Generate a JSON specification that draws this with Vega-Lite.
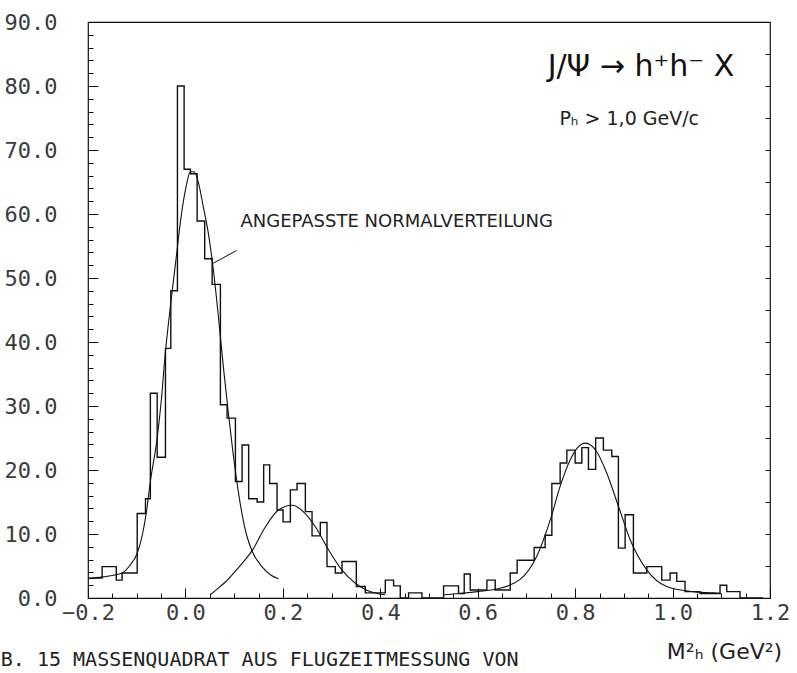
{
  "$schema": "https://vega.github.io/schema/vega-lite/v6.json",
  "width": 682,
  "height": 576,
  "autosize": "none",
  "padding": {"left": 88, "top": 22, "right": 27, "bottom": 75},
  "background": "white",
  "config": {
    "view": {"stroke": "#111", "strokeWidth": 1.2},
    "axis": {"grid": false, "domain": false, "tickColor": "#111", "tickWidth": 1, "labelFont": "DejaVu Sans Mono", "labelFontSize": 22, "labelColor": "#3a3a3a", "titleFont": "DejaVu Sans", "titleFontWeight": "normal"}
  },
  "datasets": {
    "hist": [
      {"x": -0.2, "n": 3.1}, {"x": -0.171, "n": 4.9}, {"x": -0.142, "n": 2.8}, {"x": -0.13, "n": 3.9},
      {"x": -0.099, "n": 13.2}, {"x": -0.082, "n": 15.5}, {"x": -0.072, "n": 32}, {"x": -0.058, "n": 22},
      {"x": -0.041, "n": 39}, {"x": -0.03, "n": 48}, {"x": -0.0164, "n": 80}, {"x": -0.0027, "n": 67},
      {"x": 0.0103, "n": 66.3}, {"x": 0.024, "n": 58.9}, {"x": 0.0396, "n": 53}, {"x": 0.0548, "n": 49},
      {"x": 0.0718, "n": 30.2}, {"x": 0.0855, "n": 28.1}, {"x": 0.1026, "n": 18.2}, {"x": 0.1163, "n": 23.9},
      {"x": 0.1298, "n": 15.5}, {"x": 0.1471, "n": 15}, {"x": 0.1606, "n": 20.8}, {"x": 0.1729, "n": 17.9},
      {"x": 0.1881, "n": 13.75}, {"x": 0.2004, "n": 11.9}, {"x": 0.2154, "n": 16.9}, {"x": 0.2291, "n": 17.9},
      {"x": 0.2462, "n": 13.5}, {"x": 0.2599, "n": 9.7}, {"x": 0.2769, "n": 11.8}, {"x": 0.2906, "n": 4.9},
      {"x": 0.3077, "n": 3.9}, {"x": 0.3214, "n": 5.7}, {"x": 0.3508, "n": 1.8}, {"x": 0.3692, "n": 0.8},
      {"x": 0.4103, "n": 2.8}, {"x": 0.4273, "n": 1.9}, {"x": 0.441, "n": 0}, {"x": 0.4581, "n": 0.8},
      {"x": 0.4855, "n": 0}, {"x": 0.5299, "n": 1.9}, {"x": 0.5606, "n": 0.7}, {"x": 0.5723, "n": 3.75},
      {"x": 0.5846, "n": 1.25}, {"x": 0.6189, "n": 2.8}, {"x": 0.6359, "n": 1.25}, {"x": 0.6667, "n": 3.9},
      {"x": 0.681, "n": 5.9}, {"x": 0.7159, "n": 7.9}, {"x": 0.7385, "n": 9.8}, {"x": 0.7522, "n": 17.9},
      {"x": 0.7692, "n": 21.1}, {"x": 0.783, "n": 23.1}, {"x": 0.8, "n": 21.1}, {"x": 0.8137, "n": 23.5},
      {"x": 0.8273, "n": 20.1}, {"x": 0.8421, "n": 25}, {"x": 0.858, "n": 23.1}, {"x": 0.8753, "n": 22.1},
      {"x": 0.8888, "n": 7.8}, {"x": 0.9026, "n": 13}, {"x": 0.9196, "n": 3.9}, {"x": 0.9471, "n": 4.9},
      {"x": 0.9778, "n": 2.8}, {"x": 0.9949, "n": 3.9}, {"x": 1.0086, "n": 2.6}, {"x": 1.0256, "n": 1.0},
      {"x": 1.0564, "n": 0.7}, {"x": 1.0974, "n": 2.0}, {"x": 1.1112, "n": 1.0}, {"x": 1.1385, "n": 0},
      {"x": 1.1856, "n": 0}
    ],
    "fits": [
      {"c": "a", "x": -0.2, "f": 3.0}, {"c": "a", "x": -0.17, "f": 3.3}, {"c": "a", "x": -0.13, "f": 3.9},
      {"c": "a", "x": -0.115, "f": 5.0}, {"c": "a", "x": -0.099, "f": 7.0}, {"c": "a", "x": -0.088, "f": 10},
      {"c": "a", "x": -0.08, "f": 13.5}, {"c": "a", "x": -0.072, "f": 18.2}, {"c": "a", "x": -0.058, "f": 25},
      {"c": "a", "x": -0.05, "f": 30.5}, {"c": "a", "x": -0.041, "f": 38.5}, {"c": "a", "x": -0.031, "f": 45.5},
      {"c": "a", "x": -0.02, "f": 52.5}, {"c": "a", "x": -0.007, "f": 60.6}, {"c": "a", "x": 0.002, "f": 64.5},
      {"c": "a", "x": 0.01, "f": 66.6}, {"c": "a", "x": 0.018, "f": 66.6}, {"c": "a", "x": 0.027, "f": 64.8},
      {"c": "a", "x": 0.037, "f": 61}, {"c": "a", "x": 0.047, "f": 57}, {"c": "a", "x": 0.057, "f": 51.5},
      {"c": "a", "x": 0.067, "f": 44.5}, {"c": "a", "x": 0.078, "f": 36}, {"c": "a", "x": 0.088, "f": 29},
      {"c": "a", "x": 0.098, "f": 22.5}, {"c": "a", "x": 0.113, "f": 14.5}, {"c": "a", "x": 0.125, "f": 10},
      {"c": "a", "x": 0.137, "f": 7.3}, {"c": "a", "x": 0.157, "f": 4.9}, {"c": "a", "x": 0.175, "f": 3.6},
      {"c": "a", "x": 0.191, "f": 3.0},
      {"c": "b", "x": 0.051, "f": 0.5}, {"c": "b", "x": 0.062, "f": 1.2}, {"c": "b", "x": 0.082, "f": 2.5},
      {"c": "b", "x": 0.098, "f": 3.8}, {"c": "b", "x": 0.115, "f": 5.3}, {"c": "b", "x": 0.137, "f": 7.4},
      {"c": "b", "x": 0.164, "f": 11.1}, {"c": "b", "x": 0.191, "f": 13.75}, {"c": "b", "x": 0.219, "f": 14.5},
      {"c": "b", "x": 0.246, "f": 13.2}, {"c": "b", "x": 0.267, "f": 11.1}, {"c": "b", "x": 0.294, "f": 7.5},
      {"c": "b", "x": 0.321, "f": 4.4}, {"c": "b", "x": 0.349, "f": 2.3}, {"c": "b", "x": 0.37, "f": 1.3},
      {"c": "b", "x": 0.393, "f": 0.7}, {"c": "b", "x": 0.41, "f": 0.5},
      {"c": "c", "x": 0.53, "f": 0.5}, {"c": "c", "x": 0.564, "f": 0.7}, {"c": "c", "x": 0.6, "f": 1.0},
      {"c": "c", "x": 0.639, "f": 1.4}, {"c": "c", "x": 0.687, "f": 2.9}, {"c": "c", "x": 0.721, "f": 6.5},
      {"c": "c", "x": 0.749, "f": 12.2}, {"c": "c", "x": 0.769, "f": 17.4}, {"c": "c", "x": 0.79, "f": 21.6},
      {"c": "c", "x": 0.805, "f": 23.5}, {"c": "c", "x": 0.821, "f": 24.2}, {"c": "c", "x": 0.844, "f": 22.9},
      {"c": "c", "x": 0.865, "f": 19.5}, {"c": "c", "x": 0.889, "f": 14.3}, {"c": "c", "x": 0.913, "f": 9.1},
      {"c": "c", "x": 0.947, "f": 4.4}, {"c": "c", "x": 0.988, "f": 1.8}, {"c": "c", "x": 1.042, "f": 1.0},
      {"c": "c", "x": 1.084, "f": 0.8}, {"c": "c", "x": 1.1, "f": 0.7}
    ]
  },
  "layer": [
    {
      "data": {"name": "hist"},
      "mark": {"type": "line", "interpolate": "step-after", "color": "#111", "strokeWidth": 1.4},
      "encoding": {
        "x": {"field": "x", "type": "quantitative", "scale": {"domain": [-0.2, 1.2], "nice": false, "zero": false},
          "axis": {"orient": "bottom", "values": [-0.2, 0, 0.2, 0.4, 0.6, 0.8, 1.0, 1.2], "format": ".1f", "ticks": false, "labelPadding": 4, "labelFlush": false,
            "title": "M²ₕ (GeV²)", "titleFontSize": 22, "titleColor": "#222", "titleX": 636, "titleY": 53, "titleAlign": "center", "titleBaseline": "middle", "titleAnchor": null}},
        "y": {"field": "n", "type": "quantitative", "scale": {"domain": [0, 90], "nice": false},
          "axis": {"orient": "left", "values": [0, 10, 20, 30, 40, 50, 60, 70, 80, 90], "format": ".1f", "ticks": false, "labelPadding": 31, "title": null}}
      }
    },
    {
      "data": {"name": "fits"},
      "mark": {"type": "line", "interpolate": "monotone", "color": "#111", "strokeWidth": 1.1},
      "encoding": {
        "x": {"field": "x", "type": "quantitative", "axis": {"orient": "bottom", "values": [-0.2, 0, 0.2, 0.4, 0.6, 0.8, 1.0, 1.2], "labels": false, "tickSize": -10, "title": null}},
        "y": {"field": "f", "type": "quantitative", "axis": {"orient": "left", "values": [0, 10, 20, 30, 40, 50, 60, 70, 80, 90], "labels": false, "tickSize": -10, "title": null}},
        "detail": {"field": "c", "type": "nominal"}
      }
    },
    {
      "data": {"values": [{"x1": 0.057, "y1": 52.3, "x2": 0.105, "y2": 54.3}]},
      "mark": {"type": "rule", "color": "#111", "strokeWidth": 1},
      "encoding": {
        "x": {"field": "x1", "type": "quantitative", "axis": {"orient": "bottom", "values": [-0.15, -0.1, -0.05, 0.05, 0.1, 0.15, 0.25, 0.3, 0.35, 0.45, 0.5, 0.55, 0.65, 0.7, 0.75, 0.85, 0.9, 0.95, 1.05, 1.1, 1.15], "labels": false, "tickSize": -5, "title": null}},
        "y": {"field": "y1", "type": "quantitative", "axis": {"orient": "left", "values": [2, 4, 6, 8, 12, 14, 16, 18, 22, 24, 26, 28, 32, 34, 36, 38, 42, 44, 46, 48, 52, 54, 56, 58, 62, 64, 66, 68, 72, 74, 76, 78, 82, 84, 86, 88], "labels": false, "tickSize": -5, "title": null}},
        "x2": {"field": "x2"},
        "y2": {"field": "y2"}
      }
    },
    {
      "data": {"values": [{"x": 0.935, "y": 83, "t": "J/Ψ → h⁺h⁻ X"}]},
      "mark": {"type": "text", "font": "DejaVu Sans", "fontSize": 30, "color": "#111", "align": "center", "baseline": "middle"},
      "encoding": {
        "x": {"field": "x", "type": "quantitative", "axis": null},
        "y": {"field": "y", "type": "quantitative", "axis": {"orient": "right", "values": [5, 10, 15, 20, 25, 30, 35, 40, 45, 50, 55, 60, 65, 70, 75, 80, 85], "labels": false, "tickSize": -5, "title": null}},
        "text": {"field": "t"}
      }
    },
    {
      "data": {"values": [{"x": 0.911, "y": 74.8, "t": "Pₕ > 1,0 GeV/c"}]},
      "mark": {"type": "text", "font": "DejaVu Sans", "fontSize": 19, "color": "#222", "align": "center", "baseline": "middle"},
      "encoding": {
        "x": {"field": "x", "type": "quantitative", "axis": null},
        "y": {"field": "y", "type": "quantitative", "axis": null},
        "text": {"field": "t"}
      }
    },
    {
      "data": {"values": [{"x": 0.113, "y": 58.75, "t": "ANGEPASSTE NORMALVERTEILUNG"}]},
      "mark": {"type": "text", "font": "DejaVu Sans", "fontSize": 18, "color": "#222", "align": "left", "baseline": "middle"},
      "encoding": {
        "x": {"field": "x", "type": "quantitative", "axis": null},
        "y": {"field": "y", "type": "quantitative", "axis": null},
        "text": {"field": "t"}
      }
    },
    {
      "data": {"values": [{"x": -0.379, "y": -10.6, "t": "B.  15  MASSENQUADRAT AUS FLUGZEITMESSUNG VON"}]},
      "mark": {"type": "text", "font": "DejaVu Sans Mono", "fontSize": 20, "color": "#222", "align": "left", "baseline": "alphabetic"},
      "encoding": {
        "x": {"field": "x", "type": "quantitative", "axis": null},
        "y": {"field": "y", "type": "quantitative", "axis": null},
        "text": {"field": "t"}
      }
    }
  ],
  "resolve": {"axis": {"x": "independent", "y": "independent"}}
}
